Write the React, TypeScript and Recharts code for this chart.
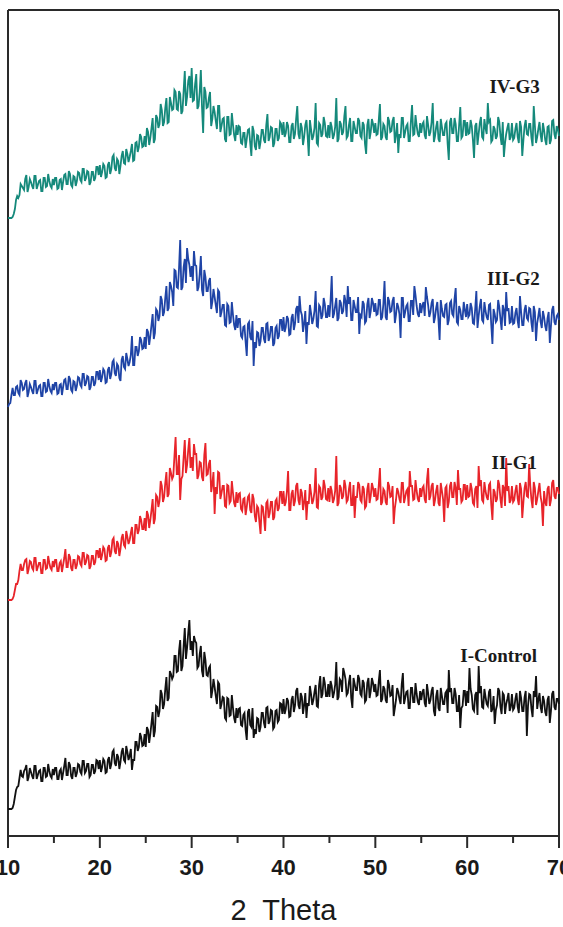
import { Line, LineChart, ReferenceDot, ReferenceLine, XAxis, YAxis, Label } from "recharts";

// XRD patterns, stacked (a.u.). Read every 0.125 deg from 10 to 70 (2 theta):
// *_A holds the samples at 10, 10.25, 10.5 ...; *_B the ones in between (10.125, 10.375 ...)
const START = 10;
const STEP = 0.125;

const IV_G3_A = [
	618, 618, 619, 627, 640, 641, 650, 646, 661, 649, 654, 647, 660, 651, 656, 645, 658, 650, 655, 648,
	651, 658, 648, 657, 654, 662, 652, 662, 649, 659, 655, 663, 654, 667, 658, 664, 654, 664, 658, 669,
	671, 664, 670, 659, 674, 667, 681, 665, 675, 670, 685, 672, 682, 679, 692, 676, 694, 689, 699, 690,
	689, 704, 698, 718, 697, 718, 712, 726, 714, 738, 714, 733, 727, 744, 726, 742, 725, 765, 739, 760,
	768, 736, 762, 730, 766, 703, 744, 729, 744, 717, 724, 707, 730, 710, 718, 694, 719, 702, 711, 695,
	701, 709, 692, 703, 697, 707, 680, 705, 686, 700, 694, 706, 693, 722, 699, 708, 693, 707, 698, 712,
	714, 703, 710, 694, 713, 702, 730, 697, 708, 699, 716, 680, 707, 700, 733, 691, 711, 702, 713, 699,
	698, 709, 701, 738, 697, 712, 704, 730, 700, 718, 695, 709, 703, 715, 698, 711, 682, 717, 704, 712,
	713, 702, 732, 699, 710, 696, 715, 705, 719, 701, 683, 698, 718, 704, 712, 695, 731, 702, 710, 699,
	703, 714, 697, 711, 704, 733, 700, 715, 694, 709, 701, 714, 676, 718, 703, 712, 695, 729, 700, 715,
	714, 703, 710, 678, 713, 702, 719, 697, 708, 733, 716, 696, 707, 700, 714, 691, 679, 702, 713, 699,
	696, 707, 699, 715, 680, 710, 702, 712, 698, 730, 693, 707, 701, 713, 696, 709, 692, 715, 702, 710,
	700,
];
const IV_G3_B = [
	618, 618, 622, 636, 638, 652, 648, 657, 644, 657, 650, 660, 647, 655, 645, 658, 649, 662, 650, 657,
	658, 647, 656, 646, 661, 652, 665, 651, 660, 650, 664, 656, 667, 655, 665, 651, 664, 655, 669, 661,
	659, 672, 658, 671, 662, 679, 668, 677, 662, 680, 673, 687, 674, 685, 675, 693, 684, 702, 689, 700,
	708, 691, 708, 693, 721, 708, 732, 710, 728, 713, 739, 726, 746, 727, 745, 722, 745, 730, 755, 738,
	735, 752, 727, 744, 729, 749, 728, 738, 710, 730, 715, 730, 704, 717, 697, 719, 701, 723, 701, 711,
	710, 693, 703, 688, 706, 693, 710, 690, 701, 687, 706, 696, 711, 695, 709, 689, 707, 695, 714, 701,
	699, 714, 694, 710, 697, 717, 702, 713, 691, 711, 700, 716, 696, 708, 693, 713, 699, 719, 700, 711,
	714, 697, 709, 694, 715, 701, 720, 698, 711, 695, 715, 703, 718, 700, 714, 692, 711, 697, 717, 703,
	701, 716, 696, 712, 699, 719, 704, 715, 693, 713, 702, 718, 698, 710, 695, 715, 701, 721, 702, 713,
	712, 701, 720, 700, 714, 694, 709, 697, 717, 701, 712, 692, 714, 703, 718, 695, 711, 698, 715, 700,
	702, 716, 696, 710, 691, 713, 699, 717, 702, 714, 694, 710, 697, 719, 700, 714, 693, 708, 696, 713,
	698, 713, 693, 709, 696, 716, 701, 712, 690, 710, 699, 714, 694, 706, 691, 710, 696, 716, 697, 707,
];

const III_G2_A = [
	429, 433, 448, 441, 450, 441, 453, 447, 456, 444, 449, 442, 455, 446, 451, 440, 453, 445, 450, 443,
	446, 453, 443, 452, 449, 457, 447, 457, 444, 454, 450, 458, 449, 462, 453, 459, 449, 459, 453, 464,
	466, 459, 465, 454, 469, 462, 476, 460, 470, 455, 480, 467, 477, 474, 500, 471, 489, 485, 496, 488,
	487, 504, 500, 522, 503, 525, 520, 536, 524, 550, 528, 550, 530, 565, 548, 596, 549, 577, 588, 571,
	570, 585, 570, 549, 580, 540, 559, 545, 558, 534, 539, 523, 544, 524, 531, 510, 530, 514, 521, 506,
	508, 517, 498, 510, 480, 514, 496, 470, 488, 503, 495, 508, 493, 513, 499, 509, 493, 510, 500, 516,
	519, 509, 517, 502, 522, 512, 530, 540, 521, 513, 492, 511, 523, 517, 545, 509, 529, 521, 532, 519,
	519, 560, 522, 538, 518, 533, 525, 535, 550, 539, 516, 530, 524, 502, 519, 532, 515, 538, 525, 533,
	533, 522, 536, 519, 555, 516, 535, 525, 539, 521, 529, 498, 538, 524, 532, 515, 535, 550, 530, 519,
	523, 534, 549, 531, 524, 537, 519, 534, 496, 527, 519, 532, 516, 535, 520, 548, 512, 526, 517, 526,
	532, 521, 528, 512, 545, 520, 537, 514, 525, 516, 532, 492, 522, 516, 529, 506, 526, 544, 528, 514,
	512, 523, 515, 540, 511, 526, 518, 528, 513, 530, 495, 520, 514, 525, 510, 518, 493, 526, 514, 520,
	516,
];
const III_G2_B = [
	432, 441, 441, 449, 443, 456, 446, 453, 439, 452, 445, 455, 442, 450, 440, 453, 444, 457, 445, 452,
	453, 442, 451, 441, 456, 447, 460, 446, 455, 445, 459, 451, 462, 450, 460, 446, 459, 450, 464, 456,
	454, 467, 453, 466, 457, 474, 463, 472, 458, 476, 469, 483, 470, 481, 471, 489, 480, 499, 487, 499,
	507, 491, 511, 497, 527, 515, 540, 520, 538, 525, 554, 544, 566, 549, 568, 546, 569, 553, 577, 559,
	555, 571, 545, 562, 546, 566, 545, 555, 527, 547, 531, 546, 519, 531, 511, 532, 513, 534, 511, 521,
	517, 500, 509, 494, 512, 499, 515, 494, 504, 490, 508, 497, 512, 495, 509, 490, 508, 497, 516, 505,
	504, 520, 501, 518, 506, 527, 513, 525, 504, 525, 514, 531, 512, 525, 510, 531, 517, 538, 519, 531,
	535, 518, 530, 515, 536, 522, 541, 519, 532, 516, 536, 524, 539, 521, 535, 513, 532, 518, 538, 524,
	521, 536, 516, 532, 519, 539, 524, 535, 513, 533, 522, 538, 518, 530, 515, 535, 521, 541, 522, 533,
	531, 520, 539, 519, 533, 513, 528, 516, 536, 520, 531, 511, 533, 522, 537, 514, 530, 517, 534, 519,
	519, 533, 513, 527, 508, 530, 516, 534, 519, 531, 511, 527, 514, 536, 517, 531, 510, 525, 513, 530,
	513, 528, 508, 524, 511, 531, 516, 527, 504, 524, 513, 528, 508, 519, 505, 524, 510, 530, 511, 522,
];

const II_G1_A = [
	236, 236, 237, 246, 252, 265, 266, 272, 277, 267, 274, 266, 278, 269, 273, 263, 276, 268, 273, 266,
	269, 276, 265, 275, 271, 287, 269, 279, 265, 276, 271, 279, 270, 283, 274, 280, 270, 280, 274, 285,
	288, 281, 287, 276, 291, 284, 298, 282, 292, 287, 302, 289, 299, 296, 309, 293, 311, 306, 316, 307,
	305, 321, 316, 337, 317, 339, 335, 350, 339, 364, 342, 363, 360, 399, 362, 336, 360, 396, 371, 398,
	379, 392, 382, 361, 373, 355, 393, 362, 376, 352, 322, 342, 363, 343, 350, 329, 350, 335, 343, 329,
	333, 343, 325, 338, 329, 341, 323, 337, 314, 328, 302, 329, 305, 335, 323, 334, 319, 337, 328, 344,
	345, 334, 365, 326, 346, 335, 353, 331, 343, 334, 316, 332, 343, 336, 368, 328, 348, 339, 350, 336,
	334, 345, 337, 380, 333, 348, 340, 350, 336, 354, 331, 318, 339, 351, 334, 347, 330, 353, 340, 348,
	348, 337, 368, 334, 345, 331, 350, 340, 312, 336, 344, 333, 353, 339, 347, 365, 350, 337, 345, 334,
	339, 350, 333, 368, 340, 353, 336, 351, 330, 345, 314, 350, 334, 354, 339, 348, 366, 347, 336, 351,
	351, 340, 347, 331, 350, 370, 356, 334, 345, 336, 353, 316, 344, 337, 351, 328, 348, 378, 350, 336,
	334, 345, 337, 353, 318, 348, 340, 372, 336, 354, 331, 345, 339, 310, 334, 347, 330, 353, 340, 348,
	342,
];
const II_G1_B = [
	236, 236, 240, 252, 256, 272, 266, 276, 262, 275, 268, 278, 265, 273, 263, 276, 267, 280, 268, 275,
	276, 265, 273, 264, 278, 269, 282, 268, 276, 267, 280, 272, 283, 271, 281, 267, 280, 271, 285, 278,
	276, 289, 275, 288, 279, 296, 285, 295, 280, 298, 291, 305, 292, 303, 293, 311, 302, 320, 307, 318,
	325, 308, 326, 312, 341, 329, 355, 334, 353, 339, 368, 357, 380, 362, 381, 357, 379, 363, 386, 368,
	365, 382, 357, 374, 359, 381, 361, 372, 344, 364, 349, 364, 337, 350, 330, 351, 333, 355, 333, 344,
	342, 327, 337, 321, 339, 326, 342, 320, 330, 314, 330, 318, 333, 318, 334, 316, 335, 325, 344, 332,
	330, 345, 326, 342, 330, 350, 336, 347, 326, 346, 335, 352, 332, 344, 329, 350, 336, 356, 337, 348,
	350, 333, 345, 330, 351, 337, 356, 334, 347, 331, 351, 339, 354, 336, 350, 328, 347, 333, 353, 339,
	336, 351, 331, 347, 334, 354, 339, 350, 328, 348, 337, 353, 333, 345, 330, 350, 336, 356, 337, 348,
	348, 337, 356, 336, 350, 330, 345, 333, 353, 337, 348, 328, 350, 339, 354, 331, 347, 334, 351, 336,
	339, 353, 333, 347, 328, 350, 336, 354, 339, 351, 331, 347, 334, 356, 337, 351, 330, 345, 333, 350,
	336, 351, 331, 347, 334, 354, 339, 350, 328, 348, 337, 353, 333, 345, 330, 350, 336, 356, 337, 348,
];

const I_CONTROL_A = [
	27, 27, 28, 39, 49, 58, 60, 65, 71, 59, 64, 57, 70, 61, 66, 55, 68, 60, 65, 58,
	61, 68, 57, 67, 63, 78, 61, 71, 57, 68, 63, 71, 62, 75, 65, 72, 61, 71, 65, 75,
	76, 69, 75, 64, 79, 72, 86, 70, 79, 74, 88, 74, 84, 80, 66, 76, 94, 89, 99, 91,
	89, 106, 102, 124, 105, 129, 125, 142, 132, 159, 138, 162, 160, 180, 165, 196, 170, 208, 188, 216,
	195, 200, 193, 170, 190, 159, 176, 160, 170, 145, 149, 132, 152, 132, 138, 116, 137, 121, 128, 113,
	118, 128, 110, 123, 96, 127, 109, 98, 102, 117, 109, 123, 108, 129, 115, 125, 109, 126, 116, 132,
	137, 127, 135, 120, 140, 130, 148, 127, 139, 131, 118, 130, 142, 136, 151, 129, 160, 142, 153, 140,
	139, 150, 143, 174, 139, 155, 168, 157, 143, 161, 128, 152, 146, 157, 140, 153, 136, 158, 145, 153,
	152, 141, 166, 137, 147, 133, 151, 141, 120, 136, 144, 132, 163, 138, 145, 128, 148, 134, 142, 131,
	136, 147, 129, 143, 136, 149, 120, 146, 125, 140, 132, 145, 166, 148, 133, 142, 125, 108, 130, 145,
	145, 168, 141, 125, 144, 170, 150, 128, 139, 130, 147, 127, 112, 131, 145, 122, 141, 132, 143, 129,
	126, 137, 129, 145, 125, 139, 100, 142, 127, 145, 160, 136, 129, 140, 124, 136, 113, 142, 129, 137,
	132,
];
const I_CONTROL_B = [
	27, 27, 32, 46, 50, 66, 59, 67, 55, 68, 60, 70, 57, 65, 55, 68, 59, 72, 60, 67,
	68, 57, 65, 56, 70, 61, 74, 60, 68, 59, 72, 64, 75, 63, 72, 59, 71, 62, 76, 67,
	64, 77, 63, 76, 67, 84, 73, 82, 67, 84, 76, 90, 76, 87, 76, 94, 85, 103, 90, 102,
	109, 93, 113, 99, 130, 119, 146, 127, 147, 135, 165, 157, 180, 164, 185, 165, 190, 177, 203, 186,
	180, 195, 168, 182, 165, 184, 161, 168, 138, 157, 140, 154, 127, 139, 118, 138, 120, 141, 118, 128,
	127, 111, 121, 106, 124, 111, 128, 107, 118, 104, 123, 113, 128, 112, 126, 107, 125, 114, 133, 122,
	122, 138, 119, 136, 124, 145, 131, 143, 122, 143, 133, 150, 131, 144, 130, 151, 138, 159, 140, 152,
	155, 138, 151, 136, 157, 144, 163, 141, 154, 138, 158, 146, 161, 142, 156, 134, 153, 138, 158, 144,
	140, 155, 134, 150, 136, 156, 140, 151, 128, 148, 137, 152, 132, 144, 128, 148, 134, 153, 134, 145,
	144, 133, 152, 132, 145, 125, 140, 128, 148, 132, 143, 123, 144, 133, 148, 125, 141, 128, 145, 130,
	133, 147, 127, 141, 121, 143, 129, 147, 132, 144, 124, 140, 126, 148, 129, 143, 122, 137, 125, 142,
	128, 143, 123, 138, 125, 145, 130, 141, 119, 139, 127, 143, 123, 135, 120, 140, 125, 145, 126, 137,
];

const X_TICKS = [10, 15, 20, 25, 30, 35, 40, 45, 50, 55, 60, 65, 70];

const SERIES = [
	{ key: "g3", name: "IV-G3", a: IV_G3_A, b: IV_G3_B, color: "#15897b" },
	{ key: "g2", name: "III-G2", a: III_G2_A, b: III_G2_B, color: "#1f44a6" },
	{ key: "g1", name: "II-G1", a: II_G1_A, b: II_G1_B, color: "#e8242a" },
	{ key: "control", name: "I-Control", a: I_CONTROL_A, b: I_CONTROL_B, color: "#111111" },
];

// where each trace name sits (data coords, right-aligned)
const TAGS = [
	{ name: "IV-G3", x: 67.9, y: 743 },
	{ name: "III-G2", x: 67.9, y: 551 },
	{ name: "II-G1", x: 67.6, y: 367 },
	{ name: "I-Control", x: 67.6, y: 174 },
];

const data: Record<string, number>[] = [];
I_CONTROL_A.forEach((_, i) => {
	const even: Record<string, number> = { angle: START + 2 * i * STEP };
	SERIES.forEach((s) => (even[s.key] = s.a[i]));
	data.push(even);
	if (i < I_CONTROL_B.length) {
		const odd: Record<string, number> = { angle: START + (2 * i + 1) * STEP };
		SERIES.forEach((s) => (odd[s.key] = s.b[i]));
		data.push(odd);
	}
});

const AXIS = "#2a2a2a";

function AxisTick({ x, y, payload }: any) {
	const major = payload.value % 10 === 0;
	return (
		<g>
			<line x1={x} y1={y} x2={x} y2={y + (major ? 12 : 7)} stroke={AXIS} strokeWidth={2} />
			{major && (
				<text
					x={x}
					y={y + 39}
					textAnchor="middle"
					fontSize={22}
					fontWeight="bold"
					fontFamily="'Liberation Sans', Arial, sans-serif"
					fill="#1a1a1a"
				>
					{payload.value}
				</text>
			)}
		</g>
	);
}

export default function App() {
	return (
		<div style={{ position: "absolute", left: 0, top: 0, background: "#fff" }}>
			<LineChart width={563} height={927} data={data} margin={{ top: 10, right: 4, bottom: 6, left: 8 }}>
				<XAxis
					dataKey="angle"
					type="number"
					domain={[10, 70]}
					ticks={X_TICKS}
					interval={0}
					height={85}
					tickSize={0}
					tickMargin={0}
					tickLine={false}
					tick={<AxisTick />}
					axisLine={{ stroke: AXIS, strokeWidth: 2 }}
				>
					<Label
						content={({ viewBox }: any) => (
							<text
								x={viewBox.x + viewBox.width / 2}
								y={920}
								textAnchor="middle"
								fontSize={29}
								fontFamily="'Liberation Sans', Arial, sans-serif"
								fill="#1a1a1a"
								style={{ whiteSpace: "pre" }}
							>
								{"2  Theta"}
							</text>
						)}
					/>
				</XAxis>
				<YAxis type="number" domain={[0, 826]} hide />
				<ReferenceLine x={10} stroke={AXIS} strokeWidth={2} />
				<ReferenceLine x={70} stroke={AXIS} strokeWidth={2} />
				<ReferenceLine y={826} stroke={AXIS} strokeWidth={2} />
				{SERIES.map((s) => (
					<Line
						key={s.key}
						dataKey={s.key}
						name={s.name}
						type="linear"
						stroke={s.color}
						strokeWidth={1.8}
						dot={false}
						isAnimationActive={false}
					/>
				))}
				{TAGS.map((t) => (
					<ReferenceDot
						key={t.name}
						x={t.x}
						y={t.y}
						r={0}
						shape={(p: any) => (
							<text
								x={p.cx}
								y={p.cy}
								textAnchor="end"
								fontSize={19}
								fontWeight="bold"
								fontFamily="'Liberation Serif', 'Times New Roman', serif"
								fill="#1a1a1a"
							>
								{t.name}
							</text>
						)}
					/>
				))}
			</LineChart>
		</div>
	);
}
